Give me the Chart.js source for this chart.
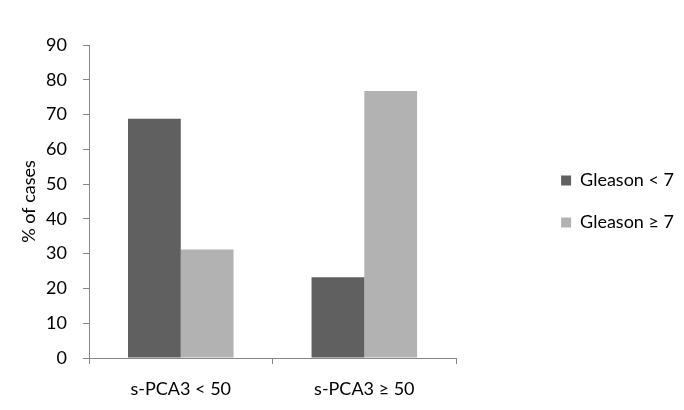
<!DOCTYPE html>
<html>
<head>
<meta charset="utf-8">
<script src="https://cdn.jsdelivr.net/npm/chart.js@4/dist/chart.umd.min.js"></script>
<style>
  html, body { margin: 0; padding: 0; background: #fff; }
  #wrap { width: 684px; height: 410px; }
</style>
</head>
<body>
<div id="wrap"><canvas id="myChart" width="684" height="410"></canvas></div>
<script>
// values
var categories = ["s-PCA3 < 50", "s-PCA3 \u2265 50"];
var gleasonLow = [68.8, 23.2];   // Gleason < 7
var gleasonHigh = [31.2, 76.8];  // Gleason >= 7
var yTicks = [0, 10, 20, 30, 40, 50, 60, 70, 80, 90];

var axisGrey = "#868686";
var fontFam = "Lato, 'Liberation Sans', sans-serif";

function drawGraph() {
    var data = {
        labels: categories,
        datasets: [
            {
                label: "Gleason < 7",
                backgroundColor: "#606060",
                borderWidth: 0,
                barPercentage: 1,
                categoryPercentage: 0.575,
                data: gleasonLow
            },
            {
                label: "Gleason \u2265 7",
                backgroundColor: "#b2b2b2",
                borderWidth: 0,
                barPercentage: 1,
                categoryPercentage: 0.575,
                data: gleasonHigh
            }
        ]
    };

    Chart.defaults.font.family = fontFam;
    Chart.defaults.color = "#000";

    var ctx = document.getElementById("myChart");
    var chartInstance = new Chart(ctx, {
        type: 'bar',
        data: data,
        options: {
            responsive: false,
            animation: false,
            layout: { padding: { top: 45, left: 0, right: 0, bottom: 0 } },
            plugins: {
                tooltip: { enabled: false },
                legend: {
                    position: 'right',
                    fullSize: false,
                    align: 'center',
                    maxWidth: 300,
                    labels: {
                        boxWidth: 10,
                        boxHeight: 10,
                        padding: 24,
                        font: { size: 18 },
                        color: "#000"
                    }
                }
            },
            scales: {
                x: {
                    offset: true,
                    grid: {
                        offset: true,
                        drawOnChartArea: false,
                        drawTicks: true,
                        tickLength: 6,
                        color: axisGrey
                    },
                    border: { color: axisGrey, width: 1 },
                    ticks: { font: { size: 18 }, padding: 14, maxRotation: 0 },
                    afterFit: function (s) { s.height = 52; }
                },
                y: {
                    min: 0,
                    max: 90,
                    afterBuildTicks: function (s) {
                        s.ticks = yTicks.map(function (v) { return { value: v }; });
                    },
                    grid: {
                        drawOnChartArea: false,
                        drawTicks: true,
                        tickLength: 6,
                        color: axisGrey
                    },
                    border: { color: axisGrey, width: 1 },
                    ticks: { font: { size: 18 }, padding: 16 },
                    title: {
                        display: true,
                        text: "% of cases",
                        font: { size: 18 },
                        padding: { top: 18, bottom: 0 }
                    },
                    afterFit: function (s) { s.width = 89; }
                },
                // empty axis used only as a gap between the plot and the legend
                gap: {
                    type: 'linear',
                    position: 'right',
                    grid: { display: false },
                    border: { display: false },
                    ticks: { display: false },
                    afterFit: function (s) { s.width = 81; }
                }
            }
        }
    });
}

document.fonts.load("18px Lato").then(drawGraph, drawGraph);
</script>
</body>
</html>
